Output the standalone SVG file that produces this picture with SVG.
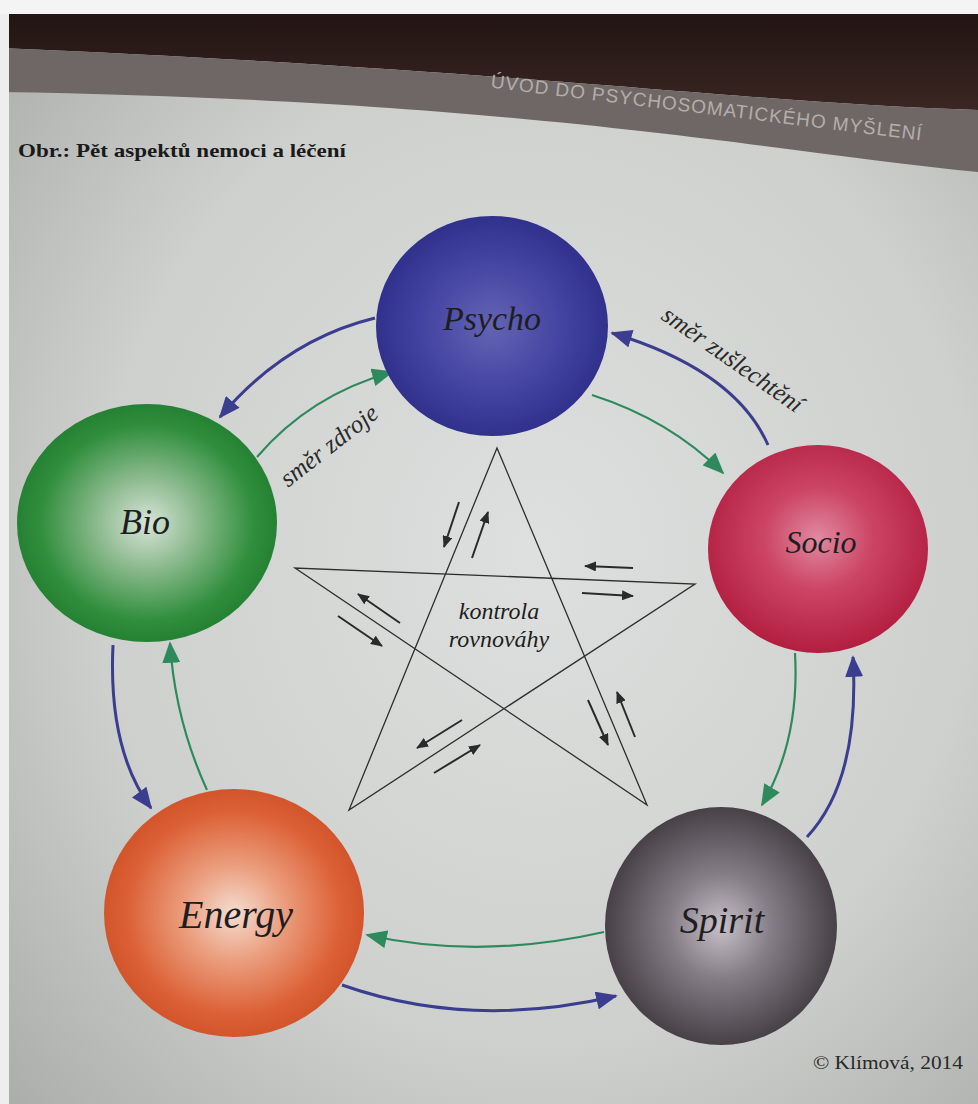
<svg xmlns="http://www.w3.org/2000/svg" width="978" height="1104" viewBox="0 0 978 1104">
<defs>
  <radialGradient id="page" cx="0.55" cy="0.5" r="0.75">
    <stop offset="0" stop-color="#dde0de"/>
    <stop offset="0.6" stop-color="#cdd0cd"/>
    <stop offset="1" stop-color="#a9aca8"/>
  </radialGradient>
  <linearGradient id="top" x1="0" y1="0" x2="0" y2="1">
    <stop offset="0" stop-color="#1e1210"/>
    <stop offset="1" stop-color="#3a2622"/>
  </linearGradient>
  <radialGradient id="gPsycho" cx="0.5" cy="0.5" r="0.55">
    <stop offset="0" stop-color="#6464b4"/>
    <stop offset="0.6" stop-color="#4040a0"/>
    <stop offset="1" stop-color="#2c2d86"/>
  </radialGradient>
  <radialGradient id="gBio" cx="0.5" cy="0.5" r="0.55">
    <stop offset="0" stop-color="#d8e4d8"/>
    <stop offset="0.35" stop-color="#8cba8e"/>
    <stop offset="0.75" stop-color="#2f8e3c"/>
    <stop offset="1" stop-color="#1f7a2e"/>
  </radialGradient>
  <radialGradient id="gSocio" cx="0.5" cy="0.45" r="0.55">
    <stop offset="0" stop-color="#e08aa0"/>
    <stop offset="0.45" stop-color="#cc4464"/>
    <stop offset="1" stop-color="#b21e40"/>
  </radialGradient>
  <radialGradient id="gEnergy" cx="0.5" cy="0.5" r="0.55">
    <stop offset="0" stop-color="#f4ddd0"/>
    <stop offset="0.35" stop-color="#eb9e7e"/>
    <stop offset="0.75" stop-color="#dc6035"/>
    <stop offset="1" stop-color="#cc4e26"/>
  </radialGradient>
  <radialGradient id="gSpirit" cx="0.5" cy="0.5" r="0.55">
    <stop offset="0" stop-color="#c8c0c8"/>
    <stop offset="0.4" stop-color="#857d86"/>
    <stop offset="1" stop-color="#3c363c"/>
  </radialGradient>
  <marker id="hb" viewBox="0 0 12 10" markerWidth="22" markerHeight="18" refX="11" refY="5" orient="auto" markerUnits="userSpaceOnUse">
    <path d="M0,0 L12,5 L0,10 z" fill="#3b3d8e"/>
  </marker>
  <marker id="hg" viewBox="0 0 12 10" markerWidth="22" markerHeight="18" refX="11" refY="5" orient="auto" markerUnits="userSpaceOnUse">
    <path d="M0,0 L12,5 L0,10 z" fill="#2e8a5c"/>
  </marker>
  <marker id="hk" viewBox="0 0 12 10" markerWidth="12" markerHeight="10" refX="11" refY="5" orient="auto" markerUnits="userSpaceOnUse">
    <path d="M0,0 L12,5 L0,10 z" fill="#2a2a2a"/>
  </marker>
  <style>
    .blue{fill:none;stroke:#3b3d8e;stroke-width:3;marker-end:url(#hb)}
    .green{fill:none;stroke:#2e8a5c;stroke-width:2.2;marker-end:url(#hg)}
    .star{fill:none;stroke:#2e2e2e;stroke-width:1.3}
    .sa{stroke:#2a2a2a;stroke-width:2;marker-end:url(#hk)}
    .lbl{font-family:"Liberation Serif",serif;font-style:italic;fill:#1e1e22;text-anchor:middle}
    .note{font-family:"Liberation Serif",serif;font-style:italic;fill:#2a2a2a;font-size:25px;text-anchor:middle}
  </style>
</defs>

<!-- background -->
<rect width="978" height="1104" fill="url(#page)"/>
<path d="M0,0 H978 V110 C760,104 520,70 0,48 Z" fill="url(#top)"/>
<path d="M0,48 C520,70 760,104 978,110 V172 C760,150 520,100 0,92 Z" fill="#6f6765"/>
<rect x="0" y="0" width="978" height="14" fill="#f4f4f4"/>
<rect x="0" y="14" width="9" height="1090" fill="#eeeeee"/>
<text transform="translate(706,114) rotate(7)" font-family="Liberation Sans,sans-serif" font-size="19" fill="#b3aeab" text-anchor="middle" letter-spacing="1">ÚVOD DO PSYCHOSOMATICKÉHO MYŠLENÍ</text>
<text x="18" y="157" font-family="Liberation Serif,serif" font-weight="bold" font-size="19" fill="#1a1a1a" textLength="328" lengthAdjust="spacingAndGlyphs">Obr.: Pět aspektů nemoci a léčení</text>

<!-- connectors -->
<g id="connectors">
  <path class="blue" d="M375,318 Q285,340 220,417"/>
  <path class="green" d="M257,457 Q310,395 392,372"/>
  <path class="green" d="M592,395 Q670,420 723,473"/>
  <path class="blue" d="M768,445 Q735,370 612,333"/>
  <path class="green" d="M795,653 Q800,740 762,805"/>
  <path class="blue" d="M807,837 Q860,780 853,657"/>
  <path class="green" d="M604,932 Q480,960 367,935"/>
  <path class="blue" d="M342,985 Q470,1030 616,996"/>
  <path class="green" d="M207,790 Q175,720 170,643"/>
  <path class="blue" d="M113,645 Q108,750 151,808"/>
  <!-- pentagram -->
  <path class="star" d="M497,448 L349,810 L695,584 L295,568 L647,805 Z"/>
  <line class="sa" x1="459" y1="502" x2="444" y2="547"/>
  <line class="sa" x1="472" y1="558" x2="488" y2="512"/>
  <line class="sa" x1="633" y1="568" x2="585" y2="566"/>
  <line class="sa" x1="582" y1="593" x2="633" y2="596"/>
  <line class="sa" x1="400" y1="623" x2="358" y2="594"/>
  <line class="sa" x1="338" y1="616" x2="382" y2="646"/>
  <line class="sa" x1="588" y1="700" x2="608" y2="745"/>
  <line class="sa" x1="635" y1="737" x2="617" y2="692"/>
  <line class="sa" x1="462" y1="720" x2="417" y2="748"/>
  <line class="sa" x1="434" y1="773" x2="480" y2="745"/>
</g>

<text class="note" transform="translate(334,452) rotate(-38)">směr zdroje</text>
<text class="note" transform="translate(728,366) rotate(35)">směr zušlechtění</text>
<text class="lbl" x="499" y="619" font-size="24">kontrola</text>
<text class="lbl" x="499" y="647" font-size="24">rovnováhy</text>

<!-- nodes -->
<g id="psycho">
  <ellipse cx="492" cy="326" rx="116" ry="110" fill="url(#gPsycho)"/>
  <text class="lbl" x="492" y="330" font-size="34">Psycho</text>
</g>
<g id="bio">
  <ellipse cx="147" cy="523" rx="130" ry="119" fill="url(#gBio)"/>
  <text class="lbl" x="145" y="534" font-size="36">Bio</text>
</g>
<g id="socio">
  <ellipse cx="818" cy="549" rx="110" ry="104" fill="url(#gSocio)"/>
  <text class="lbl" x="821" y="553" font-size="32">Socio</text>
</g>
<g id="energy">
  <ellipse cx="234" cy="913" rx="130" ry="124" fill="url(#gEnergy)"/>
  <text class="lbl" x="236" y="928" font-size="40">Energy</text>
</g>
<g id="spirit">
  <ellipse cx="721" cy="926" rx="116" ry="119" fill="url(#gSpirit)"/>
  <text class="lbl" x="722" y="933" font-size="38">Spirit</text>
</g>

<text x="963" y="1069" font-family="Liberation Serif,serif" font-size="18" fill="#2a2a2a" text-anchor="end" textLength="150" lengthAdjust="spacingAndGlyphs">© Klímová, 2014</text>
</svg>
